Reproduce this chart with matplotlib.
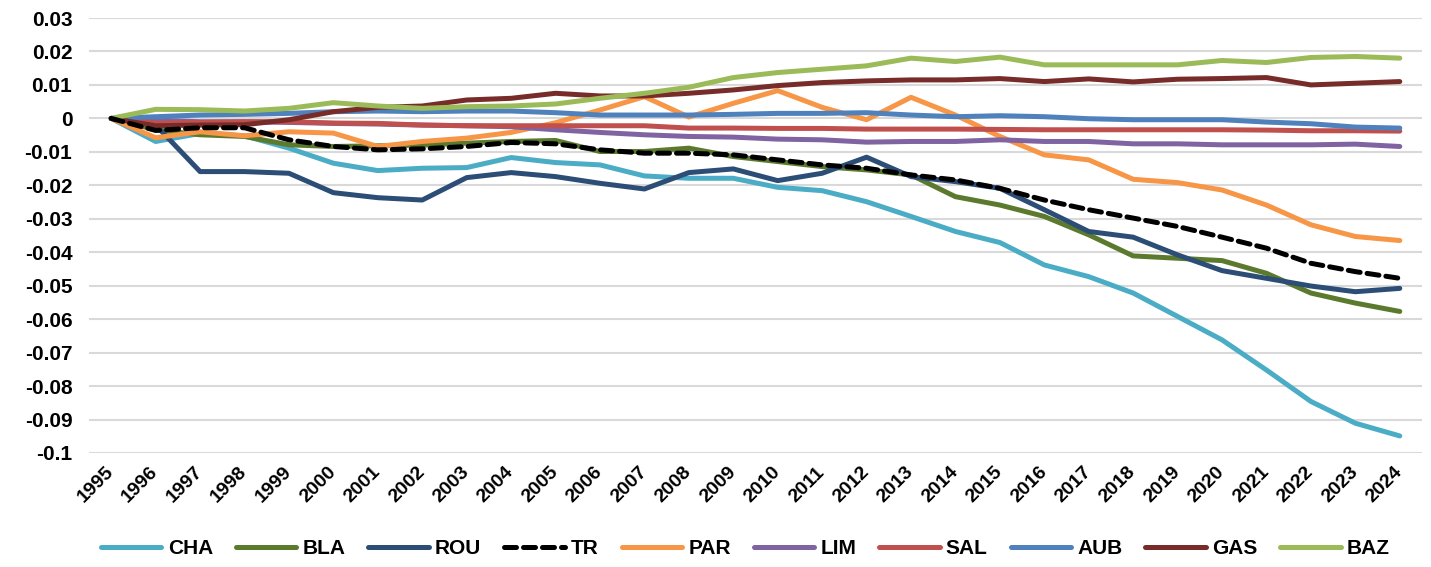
import matplotlib
matplotlib.use("Agg")
import matplotlib.pyplot as plt
from matplotlib.ticker import FixedLocator

plt.rcParams['font.family'] = ['Liberation Sans', 'DejaVu Sans']

years = list(range(1995, 2025))

CHA = [0, -0.0069, -0.0045, -0.0052, -0.0089, -0.0134, -0.0156, -0.0149, -0.0147, -0.0117,
       -0.0132, -0.0139, -0.0172, -0.0179, -0.0179, -0.0206, -0.0216, -0.0249, -0.0293, -0.0338,
       -0.0371, -0.0438, -0.0473, -0.0522, -0.0592, -0.0662, -0.0752, -0.0846, -0.0911, -0.0949]
BLA = [0, -0.0034, -0.0049, -0.0054, -0.0079, -0.0084, -0.0082, -0.0080, -0.0074, -0.0069,
       -0.0066, -0.0099, -0.0099, -0.0089, -0.0114, -0.0129, -0.0144, -0.0154, -0.0169, -0.0234,
       -0.0259, -0.0293, -0.0348, -0.0411, -0.0418, -0.0425, -0.0463, -0.0522, -0.0552, -0.0577]
ROU = [0, -0.0020, -0.0159, -0.0159, -0.0164, -0.0222, -0.0237, -0.0244, -0.0177, -0.0162,
       -0.0174, -0.0194, -0.0211, -0.0162, -0.0151, -0.0186, -0.0164, -0.0116, -0.0174, -0.0189,
       -0.0209, -0.0273, -0.0338, -0.0355, -0.0408, -0.0455, -0.0478, -0.0501, -0.0518, -0.0508]
TR = [0, -0.0036, -0.0028, -0.0028, -0.0064, -0.0084, -0.0094, -0.0091, -0.0084, -0.0072,
      -0.0076, -0.0094, -0.0104, -0.0104, -0.0109, -0.0124, -0.0139, -0.0149, -0.0169, -0.0184,
      -0.0209, -0.0244, -0.0273, -0.0298, -0.0323, -0.0355, -0.0388, -0.0433, -0.0458, -0.0478]
PAR = [0, -0.0058, -0.0040, -0.0052, -0.0040, -0.0044, -0.0084, -0.0069, -0.0059, -0.0042,
       -0.0013, 0.0025, 0.0065, 0.0004, 0.0045, 0.0083, 0.0033, -0.0004, 0.0063, 0.0010,
       -0.0054, -0.0109, -0.0124, -0.0182, -0.0192, -0.0214, -0.0259, -0.0318, -0.0353, -0.0365]
LIM = [0, -0.0005, -0.0010, -0.0010, -0.0012, -0.0015, -0.0017, -0.0020, -0.0022, -0.0025,
       -0.0034, -0.0042, -0.0049, -0.0054, -0.0056, -0.0062, -0.0064, -0.0071, -0.0069, -0.0069,
       -0.0064, -0.0069, -0.0069, -0.0076, -0.0076, -0.0079, -0.0079, -0.0079, -0.0077, -0.0084]
SAL = [0, -0.0014, -0.0012, -0.0010, -0.0010, -0.0014, -0.0015, -0.0020, -0.0022, -0.0022,
       -0.0022, -0.0022, -0.0022, -0.0029, -0.0029, -0.0030, -0.0030, -0.0032, -0.0032, -0.0032,
       -0.0033, -0.0034, -0.0034, -0.0034, -0.0034, -0.0034, -0.0035, -0.0037, -0.0037, -0.0038]
AUB = [0, 0.0005, 0.0010, 0.0012, 0.0015, 0.0020, 0.0022, 0.0020, 0.0022, 0.0022,
       0.0017, 0.0010, 0.0010, 0.0010, 0.0012, 0.0015, 0.0015, 0.0017, 0.0010, 0.0005,
       0.0008, 0.0005, -0.0001, -0.0004, -0.0004, -0.0004, -0.0011, -0.0016, -0.0026, -0.0029]
GAS = [0, -0.0022, -0.0020, -0.0019, -0.0004, 0.0020, 0.0033, 0.0037, 0.0055, 0.0060,
       0.0075, 0.0067, 0.0067, 0.0075, 0.0085, 0.0098, 0.0107, 0.0112, 0.0115, 0.0115,
       0.0119, 0.0110, 0.0118, 0.0109, 0.0117, 0.0119, 0.0122, 0.0100, 0.0105, 0.0110]
BAZ = [0, 0.0027, 0.0026, 0.0022, 0.0030, 0.0047, 0.0037, 0.0030, 0.0035, 0.0037,
       0.0043, 0.0060, 0.0075, 0.0093, 0.0122, 0.0137, 0.0147, 0.0157, 0.0180, 0.0170,
       0.0183, 0.0160, 0.0160, 0.0160, 0.0160, 0.0173, 0.0167, 0.0182, 0.0185, 0.0180]

series_names = ['CHA', 'BLA', 'ROU', 'TR', 'PAR', 'LIM', 'SAL', 'AUB', 'GAS', 'BAZ']
series_data = [CHA, BLA, ROU, TR, PAR, LIM, SAL, AUB, GAS, BAZ]
colors = ['#4BACC6', '#5B7A2E', '#2C4D75', '#000000', '#F79646',
          '#8064A2', '#C0504D', '#4F81BD', '#772C2A', '#9BBB59']

yticks = [0.03, 0.02, 0.01, 0, -0.01, -0.02, -0.03, -0.04, -0.05, -0.06, -0.07, -0.08, -0.09, -0.1]
ytick_labels = ['0.03', '0.02', '0.01', '0', '-0.01', '-0.02', '-0.03', '-0.04', '-0.05',
                '-0.06', '-0.07', '-0.08', '-0.09', '-0.1']

fig = plt.figure(figsize=(14.31, 5.67), dpi=100)
ax = fig.add_axes([89 / 1431, 1 - 453 / 567, (1422 - 89) / 1431, (453 - 18) / 567])

xs = list(range(len(years)))
for name, data, c in zip(series_names, series_data, colors):
    if name == 'TR':
        continue
    ax.plot(xs, data, color=c, lw=3.6, label=name, solid_capstyle='round', zorder=3)
ax.plot(xs, TR, color='#000000', lw=3.6, ls=(0, (2.4, 1.4)), label='TR',
        dash_capstyle='round', zorder=4)

ax.set_xlim(-0.5, len(years) - 0.5)
ax.set_ylim(-0.1, 0.03)
ax.yaxis.set_major_locator(FixedLocator(yticks))
ax.set_yticklabels(ytick_labels, fontsize=15, fontweight='bold')
ax.set_xticks(xs)
ax.set_xticklabels([str(y) for y in years], rotation=45, ha='right', va='center',
                   rotation_mode='anchor', fontsize=14, fontweight='bold')
ax.tick_params(axis='both', length=0)
ax.tick_params(axis='y', pad=12)
ax.tick_params(axis='x', pad=12)
ax.grid(axis='y', color='#D9D9D9', lw=1.5, zorder=0)
for s in ax.spines.values():
    s.set_visible(False)

handles_map = {l.get_label(): l for l in ax.get_lines()}
handles = [handles_map[n] for n in series_names]
fig.legend(handles, series_names, loc='center', bbox_to_anchor=(0.521, 1 - 549 / 567),
           ncol=10, frameon=False, handlelength=2.9, columnspacing=1.1,
           handletextpad=0.3, prop={'weight': 'bold', 'size': 15})

fig.savefig('out.png', dpi=100)
